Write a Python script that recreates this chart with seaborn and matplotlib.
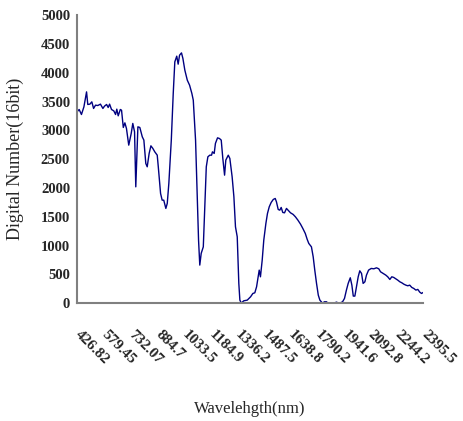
import matplotlib
matplotlib.use("Agg")
import matplotlib.pyplot as plt
import matplotlib.transforms as mtransforms
import seaborn as sns
import pandas as pd

# spectrum
wavelength = [426.82, 439, 452, 466, 481, 488, 500, 511, 521, 532, 545, 560, 574, 583, 595, 604,
              612, 623, 636, 646, 653, 661, 673, 680, 690, 699, 708, 721, 735, 744, 754, 761,
              773, 784, 798, 807, 818, 826, 837, 847, 858, 869, 883, 889, 902, 911, 920, 932,
              940, 949, 963, 974, 983, 994, 1002, 1010, 1021, 1029, 1040, 1054, 1067, 1080,
              1088, 1101, 1110, 1118, 1125, 1133, 1145, 1152, 1162, 1171, 1182, 1192, 1197,
              1207, 1214, 1226, 1237, 1247, 1256, 1266, 1273, 1287, 1296, 1309, 1319, 1328,
              1338, 1347, 1353, 1361, 1375, 1395, 1414, 1427, 1438, 1448, 1457, 1463, 1470,
              1480, 1489, 1501, 1510, 1520, 1531, 1543, 1554, 1561, 1571, 1580, 1588, 1597,
              1607, 1618, 1630, 1641, 1656, 1669, 1683, 1698, 1711, 1725, 1736, 1745, 1760,
              1770, 1779, 1789, 1799, 1808, 1823, 1834, 1846, 1853, 1868, 1887, 1903, 1914,
              1925, 1937, 1948, 1959, 1969, 1981, 1990, 1998, 2007, 2016, 2026, 2035, 2045,
              2054, 2064, 2073, 2085, 2100, 2115, 2130, 2143, 2153, 2168, 2183, 2194, 2206,
              2217, 2228, 2240, 2251, 2263, 2274, 2285, 2297, 2308, 2319, 2331, 2342, 2354,
              2365, 2376, 2386, 2395.5]
digital_number = [3321, 3362, 3275, 3408, 3668, 3449, 3455, 3495, 3380, 3437, 3431, 3455, 3380, 3420, 3449, 3397,
                  3455, 3362, 3338, 3275, 3368, 3252, 3362, 3350, 3050, 3130, 3032, 2743, 2946, 3120, 2974, 2019,
                  3061, 3050, 2887, 2830, 2425, 2367, 2599, 2731, 2686, 2627, 2569, 2367, 1904, 1788, 1788, 1644,
                  1731, 2078, 2830, 3640, 4189, 4288, 4149, 4305, 4345, 4248, 4045, 3871, 3784, 3640,
                  3524, 2830, 1904, 1094, 660, 863, 977, 1557, 2367, 2540, 2569, 2569, 2627,
                  2599, 2773, 2870, 2858, 2830, 2512, 2222, 2483, 2569, 2512, 2193, 1846, 1325,
                  1151, 342, 52, 0, 40, 52, 110, 168, 179, 283, 457, 573, 457,
                  746, 1094, 1384, 1557, 1672, 1748, 1800, 1817, 1759, 1626, 1614, 1661, 1574,
                  1568, 1644, 1603, 1568, 1540, 1498, 1441, 1371, 1297, 1210, 1106, 1036, 977,
                  804, 573, 342, 139, 52, 0, 23, 23, 0, 0, 0, 17, 0,
                  5, 23, 81, 226, 342, 440, 312, 122, 122, 283, 457, 561, 515,
                  342, 370, 486, 573, 602, 596, 613, 596, 544, 515, 486, 457, 411,
                  457, 446, 422, 399, 370, 353, 330, 312, 301, 312, 272, 255, 226,
                  238, 191, 168, 185]

tick_labels = ["426.82", "579.45", "732.07", "884.7", "1033.5", "1184.9", "1336.2",
               "1487.5", "1638.8", "1790.2", "1941.6", "2092.8", "2244.2", "2395.5"]
y_ticks = list(range(0, 5001, 500))

df = pd.DataFrame({"wl": wavelength, "dn": digital_number})

sns.set_style("white")
plt.rcParams["font.family"] = ["Liberation Serif", "DejaVu Serif"]

fig = plt.figure(figsize=(4.64, 4.21), dpi=100)
ax = fig.add_axes([0.166, 0.280, 0.746, 0.684])

sns.lineplot(data=df, x="wl", y="dn", color="#000080", linewidth=1.0, ax=ax)

ax.set_xlim(426.82, 2395.5)
ax.set_ylim(0, 5000)
ax.set_xticks([float(t) for t in tick_labels])
ax.set_xticklabels(tick_labels, rotation=-45, ha="left", va="top",
                   rotation_mode="anchor", fontsize=11, fontweight="bold")
ax.set_yticks(y_ticks)
ax.set_yticklabels([str(v) for v in y_ticks], fontsize=10.5, fontweight="bold")
ax.tick_params(axis="both", direction="in", length=4, width=1, color="black")
ax.tick_params(axis="x", pad=18)
ax.tick_params(axis="y", pad=5)

# nudge rotated labels right so they start at the tick
shift = mtransforms.ScaledTranslation(5 / 100, 0, fig.dpi_scale_trans)
for lab in ax.get_xticklabels():
    lab.set_transform(lab.get_transform() + shift)

for side in ["top", "right"]:
    ax.spines[side].set_visible(False)
for side in ["left", "bottom"]:
    ax.spines[side].set_color("#808080")
    ax.spines[side].set_linewidth(1.5)

ax.set_xlabel("Wavelehgth(nm)", fontsize=12)
ax.set_ylabel("Digital Number(16bit)", fontsize=13)
ax.xaxis.set_label_coords(0.5, -0.34)
ax.yaxis.set_label_coords(-0.152, 0.5)

fig.savefig("out.png", dpi=100)
